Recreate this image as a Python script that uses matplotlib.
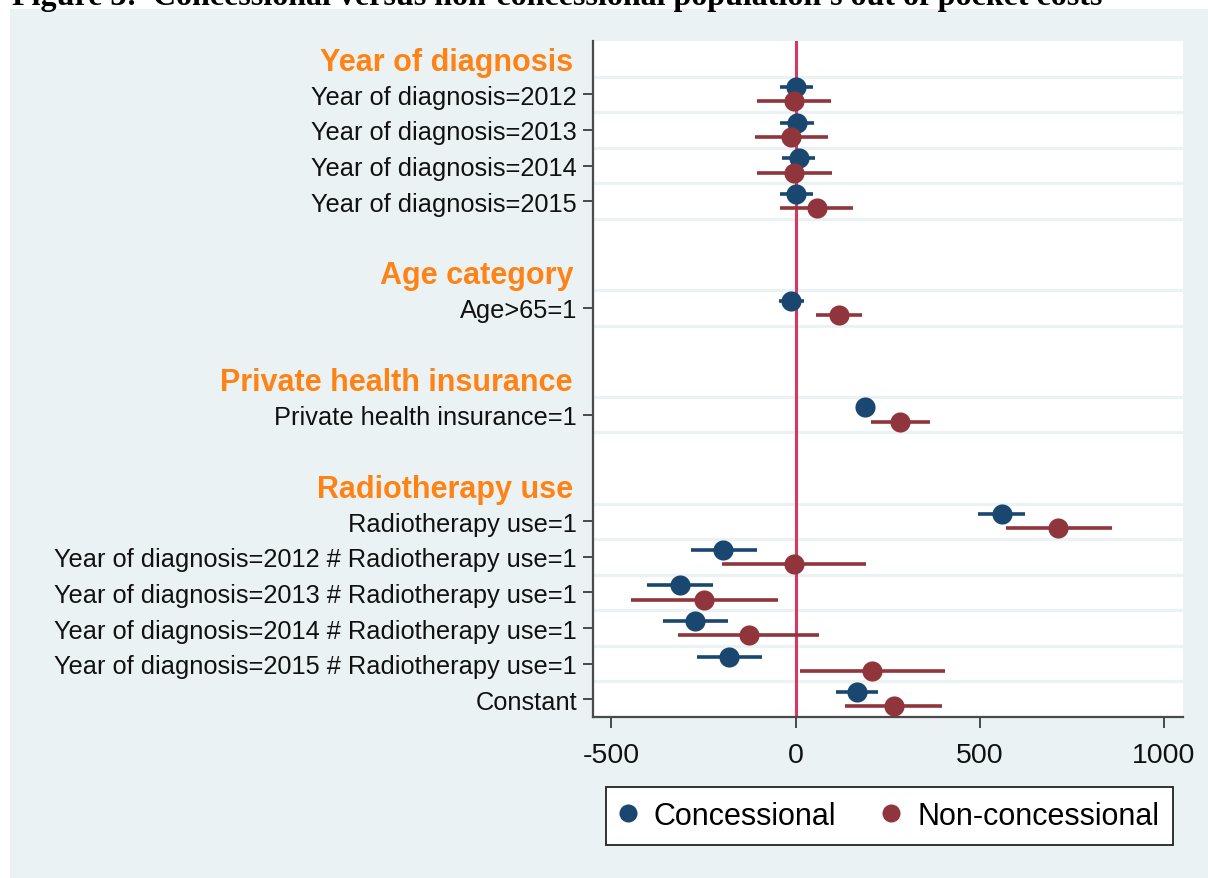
import matplotlib
matplotlib.use('Agg')
import matplotlib.pyplot as plt
from matplotlib.lines import Line2D
from matplotlib.patches import Rectangle

# ---------------- data ----------------
group_titles = ["Year of diagnosis", "Age category", "Private health insurance", "Radiotherapy use"]
group_labels = [
    ["Year of diagnosis=2012", "Year of diagnosis=2013", "Year of diagnosis=2014", "Year of diagnosis=2015"],
    ["Age>65=1"],
    ["Private health insurance=1"],
    ["Radiotherapy use=1",
     "Year of diagnosis=2012 # Radiotherapy use=1",
     "Year of diagnosis=2013 # Radiotherapy use=1",
     "Year of diagnosis=2014 # Radiotherapy use=1",
     "Year of diagnosis=2015 # Radiotherapy use=1",
     "Constant"],
]

conc_est = [0, 4, 8, 2, -13, 188, 560, -196, -313, -272, -180, 168]
conc_lo = [-42, -41, -38, -42, -46, 172, 496, -283, -404, -360, -267, 111]
conc_hi = [46, 49, 54, 47, 24, 204, 624, -104, -224, -183, -92, 224]

non_est = [-4, -12, -3, 58, 117, 284, 713, -3, -248, -126, 208, 267]
non_lo = [-106, -110, -106, -42, 55, 204, 572, -201, -446, -319, 13, 135]
non_hi = [97, 88, 98, 156, 181, 365, 858, 190, -49, 65, 405, 397]

series_names = ["Concessional", "Non-concessional"]
x_ticks = [-500, 0, 500, 1000]
title = "Figure 3:  Concessional versus non-concessional population's out of pocket costs"

# ---------------- style ----------------
BG = '#EAF2F3'
BLUE = '#1A476F'
RED = '#90353B'
ORANGE = '#FF8214'
REFLINE = '#D6385F'
plt.rcParams['font.family'] = ['Liberation Sans', 'DejaVu Sans']

W, H = 1208, 879
fig = plt.figure(figsize=(W / 100, H / 100), dpi=100)
fig.patch.set_facecolor('white')
fig.patches.append(Rectangle((10 / W, 0), 1 - 10 / W, 1 - 10 / H, transform=fig.transFigure,
                             facecolor=BG, edgecolor='none', zorder=-5))
fig.text(12 / W, 1 - 5 / H, title, fontfamily='Liberation Serif', fontweight='bold',
         fontsize=23, va='baseline', ha='left', zorder=-4)

ax = fig.add_axes([593 / W, 1 - 718 / H, (1183 - 593) / W, (718 - 42) / H])
ax.set_facecolor('white')
ax.set_zorder(2)

# layout rows
header_rows = []
item_rows = []
item_labels = []
r = 0
for gi, (t, labs) in enumerate(zip(group_titles, group_labels)):
    header_rows.append(r)
    r += 1
    for lab in labs:
        item_rows.append(r)
        item_labels.append(lab)
        r += 1
    if gi < len(group_titles) - 1:
        r += 1
last_row = r - 1

# grid lines around each item row
for y in item_rows:
    for g in (y - 0.5, y + 0.5):
        ax.axhline(g, color=BG, lw=2.2, zorder=1)

ax.axvline(0, color=REFLINE, lw=2.2, zorder=2)

off = 0.2
yc = [y - off for y in item_rows]
yn = [y + off for y in item_rows]
ax.hlines(yc, conc_lo, conc_hi, color=BLUE, lw=2.6, zorder=3)
ax.hlines(yn, non_lo, non_hi, color=RED, lw=2.6, zorder=3)
ax.plot(conc_est, yc, 'o', color=BLUE, ms=14.5, mew=0, zorder=4)
ax.plot(non_est, yn, 'o', color=RED, ms=14.5, mew=0, zorder=4)

ax.set_ylim(last_row + 0.5, -0.5)
ax.set_xlim(-550, 1052)
ax.set_yticks(item_rows)
ax.set_yticklabels(item_labels)
ax.set_xticks(x_ticks)
ax.set_xticklabels([str(v) for v in x_ticks])

for s in ('top', 'right'):
    ax.spines[s].set_visible(False)
for s in ('left', 'bottom'):
    ax.spines[s].set_color('#4a4a4a')
    ax.spines[s].set_linewidth(1.6)
ax.tick_params(axis='y', length=7, width=1.4, color='#4a4a4a', pad=4.5, labelsize=18.3, labelcolor='#111111')
ax.tick_params(axis='x', length=8, width=1.4, color='#4a4a4a', pad=10, labelsize=20.5, labelcolor='#111111')

ytr = ax.get_yaxis_transform()
for t, hr in zip(group_titles, header_rows):
    ax.text(-20 / 590, hr + 0.08, t, transform=ytr, ha='right', va='center', color=ORANGE,
            fontsize=22, fontweight='bold')

handles = [Line2D([], [], ls='none', marker='o', color=BLUE, ms=13, mew=0),
           Line2D([], [], ls='none', marker='o', color=RED, ms=13, mew=0)]
leg = fig.legend(handles, series_names, loc='center', bbox_to_anchor=(889.5 / W, 1 - 817 / H),
                 ncol=2, frameon=True, fancybox=False, fontsize=22, handletextpad=0.6,
                 columnspacing=1.55, borderpad=0.45, handlelength=0.5, framealpha=1)
leg.get_frame().set_edgecolor('#222222')
leg.get_frame().set_linewidth(1.3)
leg.get_frame().set_facecolor('white')

fig.savefig('out.png', dpi=100, facecolor=fig.get_facecolor())
